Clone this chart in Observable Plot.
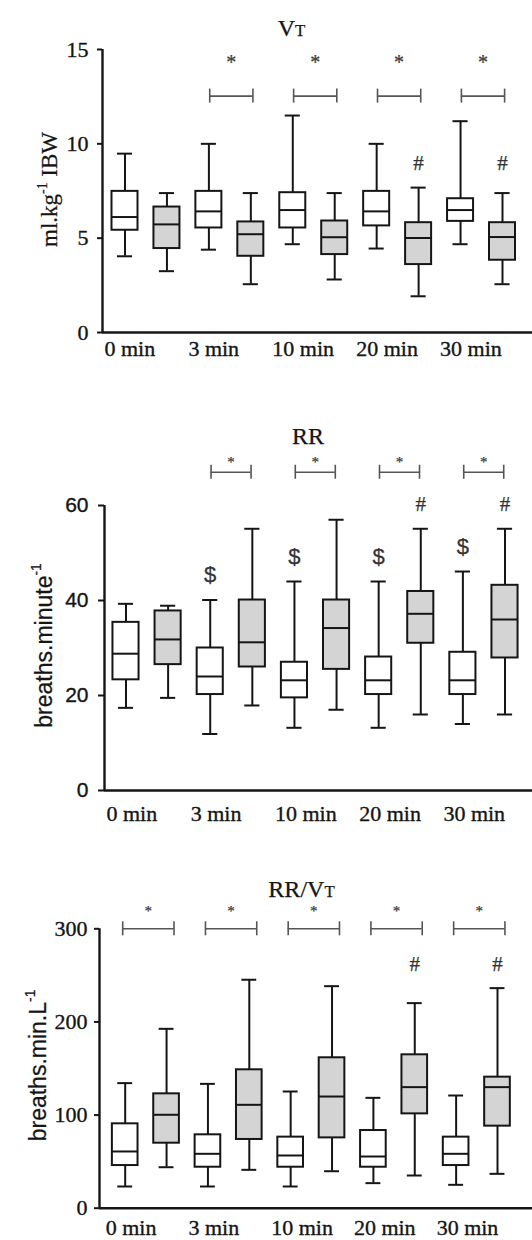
<!DOCTYPE html>
<html><head><meta charset="utf-8">
<script src="https://cdn.jsdelivr.net/npm/d3@7"></script>
<script src="https://cdn.jsdelivr.net/npm/@observablehq/plot@0.6"></script>
<style>
html,body{margin:0;padding:0;background:#fff;}
#chart{width:532px;}
#chart svg{display:block;}
</style></head><body><div id="chart"></div>
<script>
// ---------- data ----------
const times = ["0 min", "3 min", "10 min", "20 min", "30 min"];
// each entry: [low whisker, Q1, median, Q3, high whisker]
const vtWhite = [[4.04,5.42,6.12,7.48,9.48],[4.39,5.54,6.42,7.48,10.0],[4.68,5.54,6.49,7.41,11.5],[4.45,5.65,6.42,7.48,10.0],[4.68,5.89,6.49,7.09,11.2]];
const vtGray  = [[3.25,4.45,5.73,6.65,7.39],[2.56,4.04,5.21,5.86,7.39],[2.81,4.13,5.05,5.91,7.39],[1.92,3.60,5.01,5.82,7.68],[2.56,3.83,5.06,5.82,7.39]];
const rrWhite = [[17.4,23.3,28.8,35.4,39.3],[11.9,20.2,24.0,30.0,40.1],[13.2,19.5,23.2,27.0,44.0],[13.2,20.2,23.2,28.1,44.0],[14.0,20.2,23.2,29.1,46.1]];
const rrGray  = [[19.5,26.5,31.8,37.8,38.9],[17.9,26.0,31.2,40.1,55.1],[17.0,25.5,34.2,40.1,57.0],[16.0,31.0,37.2,41.9,55.1],[16.0,27.9,36.0,43.2,55.1]];
const rvWhite = [[23.3,45.8,60.9,90.6,134.3],[23.3,44.0,58.4,78.8,133.5],[23.3,44.0,56.6,76.3,125.3],[26.9,44.0,55.5,83.4,118.5],[25.1,45.8,58.4,76.3,121.0]];
const rvGray  = [[44.0,69.8,100.3,122.8,192.6],[41.2,73.8,111.0,148.6,245.3],[39.7,75.5,119.9,161.5,238.4],[35.1,101.3,130.0,164.7,220.2],[36.9,88.1,130.0,140.7,236.3]];
// significance markers per time point
const vtStar = [0,1,1,1,1], vtHash = [0,0,0,1,1];
const rrStar = [0,1,1,1,1], rrHash = [0,0,0,1,1], rrDollar = [0,1,1,1,1];
const rvStar = [1,1,1,1,1], rvHash = [0,0,0,1,1];
const vtTicks = [0,5,10,15], rrTicks = [0,20,40,60], rvTicks = [0,100,200,300];

// ---------- styles ----------
const SERIF = "Liberation Serif, Times New Roman, serif";
const SANS = "Liberation Sans, Arial, sans-serif";
const INK = "#151515", GRAY = "#d4d4d4", BR = "#555";
const heavy = {stroke: INK, strokeWidth: 0.35};
const TITLE_SIZE = 24;

function panel(cfg) {
  const W = 532;
  const s = (cfg.c9 - cfg.c0) / 9;
  const x0 = -(cfg.c0 - cfg.axisX) / s;
  const x1 = 9 + (W - cfg.c9) / s;
  const ky = (cfg.height - cfg.marginTop - cfg.marginBottom) / (cfg.yDomain[1] - cfg.yDomain[0]);
  const capY = 7 / ky;
  const mk = (arr, off, grp) => arr.map((v, i) => ({pos: 2 * i + off, low: v[0], q1: v[1], med: v[2], q3: v[3], high: v[4], grp, i}));
  const white = mk(cfg.white, 0, "white"), gray = mk(cfg.gray, 1, "gray");
  const boxes = white.concat(gray);
  const bw = 0.31, cw = 0.18;
  const br = times.map((t, i) => ({t, i})).filter(d => cfg.star[d.i]);
  const bl = d => 2 * d.i + cfg.padL, brr = d => 2 * d.i + 1 + cfg.padR;
  const hashes = gray.filter(d => cfg.hash[d.i]);
  const dollars = cfg.dollar ? white.filter(d => cfg.dollar[d.i]) : [];
  const labels = times.map((t, i) => ({t, pos: 2 * i}));
  const line = {stroke: INK, strokeWidth: 2};
  const soft = c => ({stroke: c, strokeWidth: 0.25});
  const plot = Plot.plot({
    width: W, height: cfg.height,
    marginLeft: cfg.axisX, marginRight: 0, marginTop: cfg.marginTop, marginBottom: cfg.marginBottom,
    x: {domain: [x0, x1], axis: null},
    y: {domain: cfg.yDomain},
    style: {background: "white", color: INK, overflow: "visible", fontFamily: cfg.tickFont, fontSize: cfg.tickFontSize + "px"},
    marks: [
      Plot.axisY(cfg.ticks, {tickSize: cfg.tickSize, tickPadding: cfg.tickPadding, fontSize: cfg.tickFontSize,
        strokeWidth: 2, label: null, tickFormat: d => String(d)}),
      Plot.ruleX([x0], {y1: cfg.yDomain[0], y2: cfg.yDomain[1], stroke: INK, strokeWidth: 2.4}),
      Plot.ruleY([0], {stroke: INK, strokeWidth: 2.4}),
      // whiskers
      Plot.ruleX(boxes, {x: "pos", y1: "low", y2: "high", ...line}),
      Plot.ruleY(boxes, {y: "low", x1: d => d.pos - cw, x2: d => d.pos + cw, ...line}),
      Plot.ruleY(boxes, {y: "high", x1: d => d.pos - cw, x2: d => d.pos + cw, ...line}),
      // boxes
      Plot.rect(white, {x1: d => d.pos - bw, x2: d => d.pos + bw, y1: "q1", y2: "q3", fill: "white", ...line}),
      Plot.rect(gray, {x1: d => d.pos - bw, x2: d => d.pos + bw, y1: "q1", y2: "q3", fill: GRAY, ...line}),
      Plot.ruleY(boxes, {y: "med", x1: d => d.pos - bw, x2: d => d.pos + bw, ...line}),
      // significance brackets
      Plot.ruleY(br, {y: () => cfg.bracketY, x1: bl, x2: brr, stroke: BR, strokeWidth: 1.6}),
      Plot.ruleX(br, {x: bl, y1: () => cfg.bracketY - capY, y2: () => cfg.bracketY + capY, stroke: BR, strokeWidth: 1.6}),
      Plot.ruleX(br, {x: brr, y1: () => cfg.bracketY - capY, y2: () => cfg.bracketY + capY, stroke: BR, strokeWidth: 1.6}),
      Plot.text(br, {x: d => (bl(d) + brr(d)) / 2, y: () => cfg.starY, text: () => "*", fontSize: cfg.starSize,
        fontFamily: SERIF, fill: "#3a3a3a", dy: cfg.starSize * 0.22, ...soft("#3a3a3a")}),
      Plot.text(hashes, {x: "pos", y: () => cfg.hashY, text: () => "#", fontSize: 21, fontFamily: SERIF, fill: "#333", ...soft("#333")}),
      Plot.text(dollars, {x: "pos", y: "high", text: () => "$", fontSize: 22, fontFamily: SANS, fill: "#333", dy: -25, ...soft("#333")}),
      // x labels
      Plot.text(labels, {x: "pos", y: () => 0, text: "t", textAnchor: "start", dx: cfg.labelDx, dy: cfg.labelDy,
        fontSize: 22, fontFamily: SERIF, fill: INK, ...heavy}),
      // title
      Plot.text([cfg.title.map(p => p[0]).join("")], {frameAnchor: "top", textAnchor: "middle", lineAnchor: "middle",
        dx: cfg.titleDx, dy: cfg.titleDy, fontSize: TITLE_SIZE, fontFamily: SERIF, fill: INK, ...soft(INK)}),
      // y label
      Plot.text([cfg.yLabel.map(p => p[0]).join("")], {frameAnchor: "left", textAnchor: "middle", lineAnchor: "middle",
        rotate: -90, dx: cfg.yLabelDx, dy: cfg.yLabelDy,
        fontSize: cfg.yLabelSize, fontFamily: cfg.yLabelFont, fill: INK, ...soft(INK)})
    ]
  });
  // rich text (small caps / superscripts) for title and y label; centre them explicitly
  const rich = (parts, fs) => {
    const full = parts.map(p => p[0]).join("");
    d3.select(plot).selectAll("text").filter(function () { return this.textContent === full; }).each(function () {
      const el = d3.select(this);
      el.text(null).attr("text-anchor", "middle").attr("dy", "0.32em");
      parts.forEach(([t, kind]) => {
        const ts = el.append("tspan").text(t);
        if (kind === "small") ts.attr("font-size", fs * 0.7);
        if (kind === "sup") { ts.attr("font-size", fs * 0.6).attr("dy", -fs * 0.45); }
        if (kind === "after") { ts.attr("dy", fs * 0.45); }
      });
    });
  };
  rich(cfg.title, TITLE_SIZE);
  rich(cfg.yLabel, cfg.yLabelSize);
  // tick labels: font of the original and slightly heavier like the scanned print
  d3.select(plot).selectAll("g[aria-label='y-axis tick label']")
    .attr("font-family", cfg.tickFont).attr("stroke", INK).attr("stroke-width", 0.35);
  return plot;
}

const chart = document.getElementById("chart");
chart.append(panel({
  height: 410, marginTop: 49, marginBottom: 78, axisX: 102, c0: 124.5, c9: 502,
  yDomain: [0, 15], ticks: vtTicks, tickSize: 5, tickPadding: 9, tickFontSize: 22, tickFont: SERIF,
  white: vtWhite, gray: vtGray, star: vtStar, hash: vtHash,
  padL: 0.02, padR: 0.05, bracketY: 12.53, starY: 14.56, starSize: 20, hashY: 8.95,
  labelDx: -20.5, labelDy: 16,
  title: [["V"], ["T", "small"]], titleDx: -26, titleDy: -29,
  yLabel: [["ml.kg"], ["-1", "sup"], [" IBW", "after"]], yLabelSize: 23, yLabelFont: SERIF, yLabelDx: -60, yLabelDy: -1.5
}));
chart.append(panel({
  height: 420, marginTop: 95, marginBottom: 40, axisX: 104, c0: 125.5, c9: 504.5,
  yDomain: [0, 60], ticks: rrTicks, tickSize: 6, tickPadding: 10, tickFontSize: 21, tickFont: SANS,
  white: rrWhite, gray: rrGray, star: rrStar, hash: rrHash, dollar: rrDollar,
  padL: 0.02, padR: -0.03, bracketY: 67.0, starY: 69.8, starSize: 15, hashY: 60.35,
  labelDx: -19.5, labelDy: 23,
  title: [["RR"]], titleDx: -10.5, titleDy: -77,
  yLabel: [["breaths.minute"], ["-1", "sup"]], yLabelSize: 23, yLabelFont: SANS, yLabelDx: -67.5, yLabelDy: -2.5
}));
chart.append(panel({
  height: 410, marginTop: 98.3, marginBottom: 32.3, axisX: 99, c0: 124.7, c9: 497,
  yDomain: [0, 300], ticks: rvTicks, tickSize: 5, tickPadding: 7, tickFontSize: 22, tickFont: SERIF,
  white: rvWhite, gray: rvGray, star: rvStar, hash: rvHash,
  padL: -0.06, padR: 0.18, bracketY: 300, starY: 322.6, starSize: 15, hashY: 261.7,
  labelDx: -19.5, labelDy: 20,
  title: [["RR/V"], ["T", "small"]], titleDx: -14.5, titleDy: -47.5,
  yLabel: [["breaths.min.L"], ["-1", "sup"]], yLabelSize: 23, yLabelFont: SANS, yLabelDx: -68.5, yLabelDy: -3
}));
</script></body></html>
